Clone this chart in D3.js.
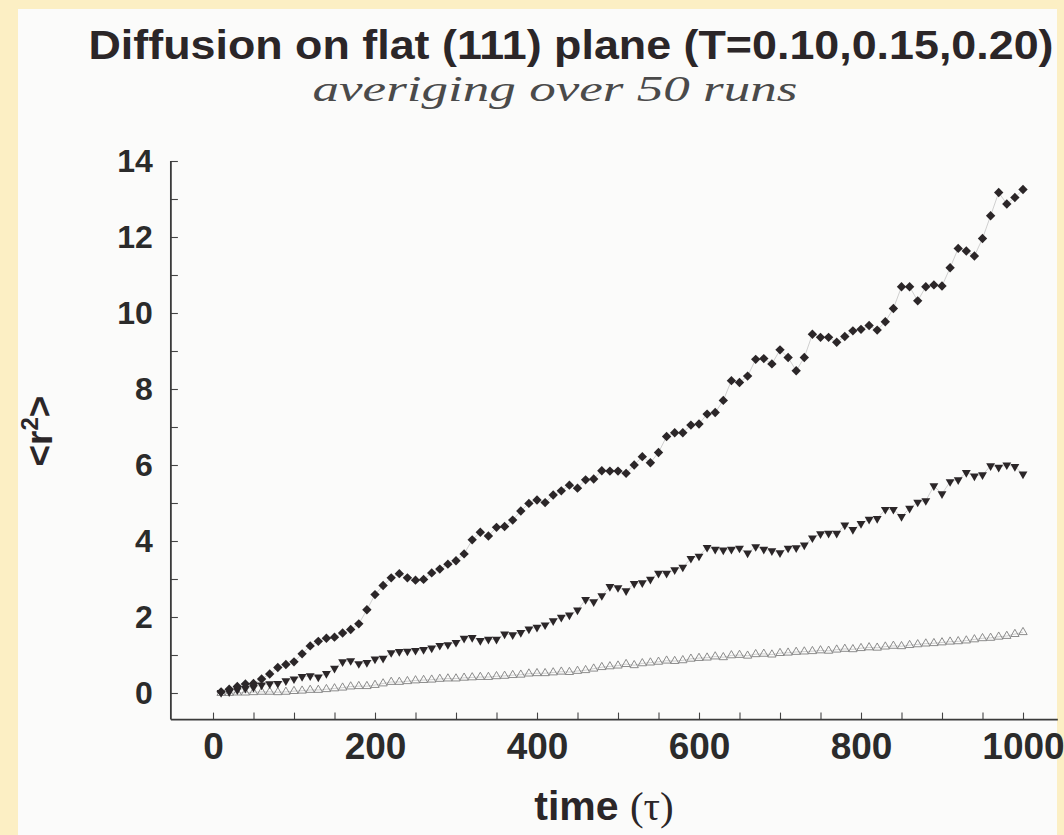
<!DOCTYPE html>
<html>
<head>
<meta charset="utf-8">
<script src="https://d3js.org/d3.v7.min.js"></script>
<style>
  html, body { margin: 0; padding: 0; background: #fcefc4; }
  svg { display: block; }
  .tick text { font-family: "Liberation Sans", Arial, sans-serif; font-weight: bold; fill: #2b2b2b; }
</style>
</head>
<body>
<main></main>
<script>
// Diffusion on flat (111) plane, <r^2> vs time for three temperatures.
// Values, one point every 10 time units.

const tau = [
   10,  20,  30,  40,  50,  60,  70,  80,  90, 100,
  110, 120, 130, 140, 150, 160, 170, 180, 190, 200,
  210, 220, 230, 240, 250, 260, 270, 280, 290, 300,
  310, 320, 330, 340, 350, 360, 370, 380, 390, 400,
  410, 420, 430, 440, 450, 460, 470, 480, 490, 500,
  510, 520, 530, 540, 550, 560, 570, 580, 590, 600,
  610, 620, 630, 640, 650, 660, 670, 680, 690, 700,
  710, 720, 730, 740, 750, 760, 770, 780, 790, 800,
  810, 820, 830, 840, 850, 860, 870, 880, 890, 900,
  910, 920, 930, 940, 950, 960, 970, 980, 990, 1000
];

// T = 0.20, filled diamonds
const rsqT020 = [
  0.03, 0.10, 0.17, 0.24, 0.25, 0.37, 0.50, 0.67, 0.75, 0.82,
  1.03, 1.24, 1.36, 1.44, 1.47, 1.58, 1.67, 1.82, 2.19, 2.59,
  2.83, 3.03, 3.14, 3.03, 2.97, 2.99, 3.16, 3.26, 3.39, 3.48,
  3.66, 4.03, 4.23, 4.13, 4.36, 4.38, 4.55, 4.79, 4.99, 5.08,
  5.01, 5.21, 5.32, 5.47, 5.39, 5.61, 5.63, 5.85, 5.84, 5.84,
  5.78, 6.00, 6.22, 6.06, 6.33, 6.75, 6.85, 6.85, 7.05, 7.08,
  7.34, 7.38, 7.70, 8.22, 8.17, 8.34, 8.78, 8.80, 8.66, 9.03,
  8.83, 8.48, 8.83, 9.44, 9.36, 9.36, 9.23, 9.38, 9.53, 9.57,
  9.67, 9.55, 9.77, 10.12, 10.69, 10.69, 10.32, 10.69, 10.74, 10.71,
  11.19, 11.70, 11.63, 11.50, 11.96, 12.56, 13.17, 12.87, 13.04, 13.25
];

// T = 0.15, filled down-triangles
const rsqT015 = [
  0.01, 0.03, 0.08, 0.12, 0.15, 0.21, 0.24, 0.25, 0.32, 0.37,
  0.43, 0.45, 0.42, 0.51, 0.65, 0.82, 0.85, 0.77, 0.80, 0.89,
  0.91, 1.06, 1.09, 1.10, 1.12, 1.14, 1.18, 1.25, 1.27, 1.33,
  1.44, 1.46, 1.38, 1.41, 1.41, 1.55, 1.53, 1.59, 1.68, 1.73,
  1.79, 1.90, 1.99, 2.05, 2.18, 2.46, 2.40, 2.56, 2.80, 2.77,
  2.69, 2.88, 2.90, 2.99, 3.15, 3.15, 3.24, 3.31, 3.54, 3.60,
  3.83, 3.78, 3.76, 3.78, 3.81, 3.68, 3.85, 3.78, 3.74, 3.69,
  3.81, 3.82, 3.89, 4.08, 4.19, 4.20, 4.20, 4.42, 4.30, 4.46,
  4.57, 4.59, 4.83, 4.83, 4.64, 4.86, 5.02, 5.06, 5.45, 5.24,
  5.56, 5.61, 5.80, 5.71, 5.74, 5.98, 5.94, 6.00, 5.96, 5.76
];

// T = 0.10, open up-triangles
const rsqT010 = [
  0.00, 0.00, 0.01, 0.01, 0.02, 0.03, 0.03, 0.02, 0.03, 0.05,
  0.06, 0.08, 0.08, 0.10, 0.12, 0.14, 0.17, 0.18, 0.18, 0.21,
  0.25, 0.29, 0.29, 0.31, 0.33, 0.34, 0.35, 0.37, 0.38, 0.38,
  0.40, 0.41, 0.42, 0.42, 0.44, 0.45, 0.47, 0.48, 0.51, 0.52,
  0.52, 0.54, 0.56, 0.55, 0.58, 0.60, 0.64, 0.68, 0.70, 0.72,
  0.76, 0.73, 0.78, 0.80, 0.82, 0.85, 0.84, 0.86, 0.90, 0.92,
  0.93, 0.96, 0.94, 0.99, 1.00, 0.98, 1.02, 1.03, 1.01, 1.05,
  1.06, 1.08, 1.09, 1.10, 1.12, 1.11, 1.14, 1.16, 1.15, 1.18,
  1.20, 1.19, 1.22, 1.24, 1.23, 1.26, 1.28, 1.30, 1.31, 1.33,
  1.35, 1.36, 1.38, 1.41, 1.44, 1.45, 1.48, 1.50, 1.55, 1.60
];

const xTickLabels = [0, 200, 400, 600, 800, 1000];
const xMinorTicks = [0, 50, 100, 150, 200, 250, 300, 350, 400, 450, 500, 550, 600, 650, 700, 750, 800, 850, 900, 950, 1000];
const yTickLabels = [0, 2, 4, 6, 8, 10, 12, 14];
const yMinorTicks = [0, 1, 2, 3, 4, 5, 6, 7, 8, 9, 10, 11, 12, 13, 14];

const titleText = "Diffusion on flat (111) plane (T=0.10,0.15,0.20)";
const subtitleText = "averiging over 50 runs";

let width = 1064,
    height = 835;

let ink = "#2b2628";

let svg = d3.select("main").append("svg")
  .attr("width", width)
  .attr("height", height);

// Paper. Scanned page sits on a yellow backing.
svg.append("rect").attr("width", width).attr("height", height).attr("fill", "#fcefc4");
svg.append("rect")
  .attr("x", 18).attr("y", 9)
  .attr("width", width - 25).attr("height", height - 9)
  .attr("fill", "#fbfbfa");

let x = d3.scaleLinear().domain([0, 1000]).range([213, 1023]);
let y = d3.scaleLinear().domain([0, 14]).range([693, 161]);

let xLo = -52, xHi = 1043, yLo = -0.7;

// Axes
let yAxis = d3.axisLeft(y)
  .tickValues(yMinorTicks)
  .tickSize(-7)
  .tickSizeOuter(0)
  .tickPadding(18)
  .tickFormat(d => yTickLabels.includes(d) ? d : "");

let gy = svg.append("g")
  .attr("transform", `translate(${x(xLo)},0)`)
  .call(yAxis);

let xAxis = d3.axisBottom(x)
  .tickValues(xMinorTicks)
  .tickSize(-7)
  .tickSizeOuter(0)
  .tickPadding(13)
  .tickFormat(d => xTickLabels.includes(d) ? d : "");

let gx = svg.append("g")
  .attr("transform", `translate(0,${y(yLo)})`)
  .call(xAxis);

[gx, gy].forEach(g => {
  g.select(".domain").remove();
  g.selectAll(".tick line").attr("stroke", "#444").attr("stroke-width", 1.1);
});
gy.selectAll(".tick text").attr("font-size", 32);
gx.selectAll(".tick text").attr("font-size", 37);

// Axis lines
svg.append("line")
  .attr("x1", x(xLo)).attr("x2", x(xLo))
  .attr("y1", y(14)).attr("y2", y(yLo))
  .attr("stroke", "#3a3a3a").attr("stroke-width", 1.8);
svg.append("line")
  .attr("x1", x(xLo)).attr("x2", x(xHi))
  .attr("y1", y(yLo)).attr("y2", y(yLo))
  .attr("stroke", "#3a3a3a").attr("stroke-width", 1.8);

// Series
let series = [
  { values: rsqT010, symbol: d3.symbolTriangle, size: 30, rotate: 0,   fill: "none", stroke: "#808080" },
  { values: rsqT015, symbol: d3.symbolTriangle, size: 34, rotate: 180, fill: ink,    stroke: "none" },
  { values: rsqT020, symbol: d3.symbolDiamond2, size: 56, rotate: 0,   fill: ink,    stroke: "none" }
];

let line = d3.line()
  .x(d => x(d[0]))
  .y(d => y(d[1]));

series.forEach(s => {
  let pts = tau.map((t, i) => [t, s.values[i]]);

  svg.append("path")
    .datum(pts)
    .attr("d", line)
    .attr("fill", "none")
    .attr("stroke", "#c4c4c4")
    .attr("stroke-width", 0.8);

  svg.append("g")
    .selectAll("path")
    .data(pts)
    .join("path")
    .attr("d", d3.symbol(s.symbol, s.size))
    .attr("transform", d => `translate(${x(d[0])},${y(d[1])}) rotate(${s.rotate})`)
    .attr("fill", s.fill)
    .attr("stroke", s.stroke)
    .attr("stroke-width", 0.9);
});

// Titles
svg.append("text")
  .attr("x", 571).attr("y", 59)
  .attr("text-anchor", "middle")
  .attr("font-family", "Liberation Sans, Arial, sans-serif")
  .attr("font-weight", "bold")
  .attr("font-size", 41)
  .attr("textLength", 965)
  .attr("lengthAdjust", "spacingAndGlyphs")
  .attr("fill", ink)
  .text(titleText);

svg.append("text")
  .attr("x", 555).attr("y", 101)
  .attr("text-anchor", "middle")
  .attr("font-family", "Liberation Serif, 'Times New Roman', serif")
  .attr("font-style", "italic")
  .attr("font-size", 36)
  .attr("textLength", 485)
  .attr("lengthAdjust", "spacingAndGlyphs")
  .attr("fill", "#4a4a4a")
  .text(subtitleText);

let xTitle = svg.append("text")
  .attr("x", 604).attr("y", 820)
  .attr("text-anchor", "middle")
  .attr("font-family", "Liberation Sans, Arial, sans-serif")
  .attr("font-weight", "bold")
  .attr("font-size", 41)
  .attr("fill", ink);
xTitle.append("tspan").text("time ");
xTitle.append("tspan")
  .attr("font-family", "Liberation Serif, serif")
  .attr("font-weight", "normal")
  .text("(τ)");

let yTitle = svg.append("text")
  .attr("transform", "translate(52,431) rotate(-90)")
  .attr("text-anchor", "middle")
  .attr("font-family", "Liberation Sans, Arial, sans-serif")
  .attr("font-weight", "bold")
  .attr("font-size", 37)
  .attr("fill", ink);
yTitle.append("tspan").text("<r");
yTitle.append("tspan").attr("dy", -14).attr("font-size", 24).text("2");
yTitle.append("tspan").attr("dy", 14).text(">");
</script>
</body>
</html>
